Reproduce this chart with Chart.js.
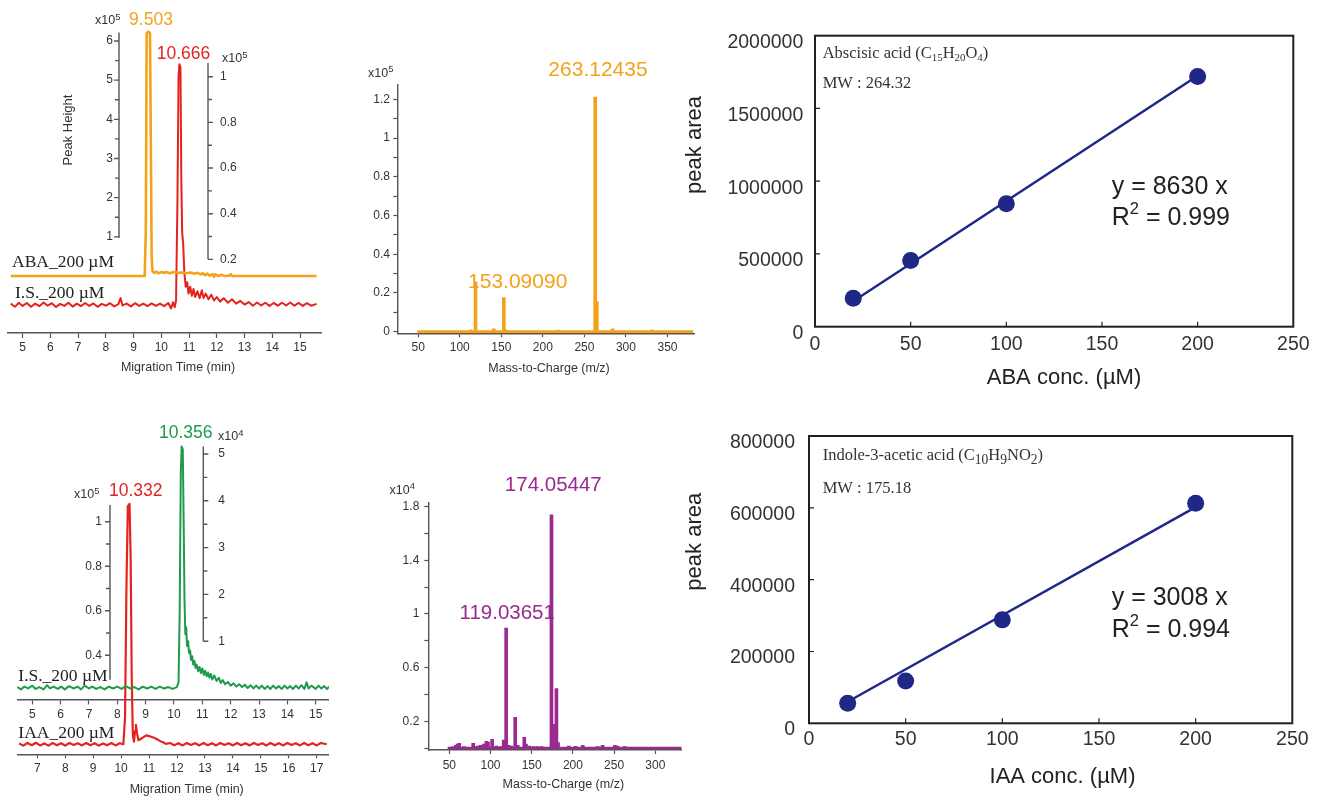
<!DOCTYPE html>
<html>
<head>
<meta charset="utf-8">
<script src="https://cdn.jsdelivr.net/npm/chart.js@4.4.1/dist/chart.umd.min.js"></script>
<style>
  html, body { margin: 0; padding: 0; background: #fff; }
  body { width: 1330px; height: 802px; position: relative; overflow: hidden; }
  canvas { position: absolute; }
</style>
</head>
<body>
<canvas id="abaEgram"></canvas>
<canvas id="abaSpec"></canvas>
<canvas id="abaCal"></canvas>
<canvas id="iaaEgram"></canvas>
<canvas id="iaaSpec"></canvas>
<canvas id="iaaCal"></canvas>
<script>
// ---- data ----
// electropherograms: [migration time (min), peak height]
const abaTrace = [[4.57,0],[9.40,0],[9.44,1.2],[9.47,6.2],[9.53,6.24],[9.59,6.2],[9.62,3.5],[9.65,0.5],[9.68,0.12],[9.75,0.08],[9.82,0.11],[9.9,0.07],[10.0,0.1],[10.1,0.08],[10.2,0.1],[10.3,0.07],[10.45,0.1],[10.6,0.08],[10.75,0.09],[10.9,0.07],[11.05,0.09],[11.2,0.06],[11.3,0.08],[11.42,0.04],[11.5,0.07],[11.58,0.02],[11.65,0.06],[11.75,0.01],[11.85,0.05],[11.9,-0.02],[11.95,0.04],[12.05,0.0],[12.15,0.03],[12.3,0.0],[12.45,0.01],[12.5,0.05],[12.55,0.0],[15.6,0]];
const isTraceAba = [[4.57,0.006],[4.72,-0.008],[4.86,0.01],[5.0,-0.004],[5.15,0.009],[5.3,-0.008],[5.45,0.006],[5.6,-0.005],[5.75,0.011],[5.9,-0.003],[6.05,0.008],[6.2,-0.009],[6.35,0.005],[6.5,-0.004],[6.65,0.01],[6.8,-0.007],[6.95,0.006],[7.1,-0.005],[7.25,0.009],[7.4,-0.004],[7.55,0.007],[7.7,-0.008],[7.85,0.005],[8.0,-0.003],[8.15,0.008],[8.3,-0.006],[8.45,0.004],[8.53,0.03],[8.6,-0.002],[8.75,0.006],[8.9,-0.006],[9.05,0.008],[9.2,-0.004],[9.35,0.006],[9.5,-0.005],[9.65,0.007],[9.8,-0.004],[9.95,0.006],[10.1,-0.005],[10.25,0.009],[10.35,-0.015],[10.42,0.012],[10.48,-0.01],[10.53,0.02],[10.58,0.45],[10.62,1.0],[10.65,1.055],[10.69,1.04],[10.72,0.55],[10.75,0.32],[10.79,0.26],[10.83,0.14],[10.88,0.08],[10.93,0.1],[10.98,0.05],[11.04,0.08],[11.1,0.04],[11.16,0.07],[11.22,0.035],[11.3,0.06],[11.38,0.03],[11.46,0.065],[11.52,0.03],[11.6,0.05],[11.7,0.025],[11.8,0.045],[11.9,0.02],[12.0,0.035],[12.12,0.015],[12.25,0.03],[12.4,0.01],[12.55,0.025],[12.7,0.006],[12.85,0.018],[13.0,0.002],[13.15,0.013],[13.3,-0.003],[13.45,0.011],[13.6,-0.002],[13.75,0.01],[13.9,-0.004],[14.05,0.009],[14.2,-0.003],[14.35,0.01],[14.5,-0.002],[14.65,0.011],[14.8,-0.003],[14.95,0.009],[15.1,-0.004],[15.25,0.008],[15.4,-0.003],[15.6,0.005]];
const isTraceIaa = [[4.47,0.02],[4.6,-0.03],[4.72,0.03],[4.85,-0.01],[5.0,0.05],[5.12,-0.02],[5.25,0.02],[5.4,-0.03],[5.52,0.06],[5.62,-0.01],[5.75,0.03],[5.9,-0.02],[6.02,0.03],[6.15,-0.03],[6.3,0.04],[6.45,-0.01],[6.6,0.03],[6.72,-0.03],[6.85,0.05],[7.0,-0.01],[7.12,0.03],[7.25,-0.02],[7.4,0.02],[7.55,-0.03],[7.7,0.03],[7.85,-0.01],[8.0,0.03],[8.15,-0.02],[8.3,0.04],[8.45,-0.01],[8.6,0.02],[8.75,-0.03],[8.9,0.03],[9.05,-0.01],[9.2,0.03],[9.35,-0.02],[9.5,0.03],[9.65,-0.01],[9.8,0.02],[9.95,-0.02],[10.1,0.02],[10.16,0.12],[10.2,1.6],[10.24,4.6],[10.27,5.16],[10.31,5.1],[10.34,3.6],[10.37,1.9],[10.4,1.15],[10.43,1.3],[10.46,0.9],[10.5,1.0],[10.53,0.75],[10.57,0.8],[10.6,0.6],[10.64,0.68],[10.68,0.5],[10.72,0.58],[10.76,0.43],[10.8,0.5],[10.85,0.36],[10.9,0.45],[10.95,0.32],[11.0,0.42],[11.05,0.28],[11.1,0.37],[11.15,0.25],[11.2,0.33],[11.25,0.22],[11.3,0.3],[11.35,0.18],[11.42,0.27],[11.5,0.15],[11.58,0.22],[11.65,0.11],[11.72,0.17],[11.8,0.08],[11.9,0.13],[12.0,0.05],[12.1,0.1],[12.2,0.03],[12.3,0.08],[12.4,0.02],[12.5,0.07],[12.6,0.0],[12.7,0.06],[12.8,-0.01],[12.9,0.05],[13.0,-0.01],[13.1,0.05],[13.2,-0.02],[13.3,0.04],[13.4,-0.02],[13.5,0.05],[13.6,-0.01],[13.7,0.04],[13.8,-0.02],[13.9,0.05],[14.0,-0.01],[14.1,0.04],[14.2,-0.02],[14.3,0.05],[14.4,-0.01],[14.5,0.06],[14.6,-0.02],[14.68,0.12],[14.75,-0.01],[14.85,0.05],[15.0,-0.02],[15.1,0.05],[15.2,-0.01],[15.3,0.04],[15.4,-0.02],[15.48,0.03]];
const iaaTrace = [[6.35,0.004],[6.5,-0.006],[6.65,0.006],[6.8,-0.004],[6.95,0.007],[7.1,-0.005],[7.25,0.004],[7.4,-0.006],[7.55,0.006],[7.7,-0.004],[7.85,0.005],[8.0,-0.006],[8.15,0.006],[8.3,-0.003],[8.45,0.005],[8.6,-0.005],[8.75,0.006],[8.9,-0.004],[9.05,0.005],[9.2,-0.006],[9.35,0.004],[9.5,-0.004],[9.65,0.006],[9.8,-0.005],[9.95,0.005],[10.08,0.0],[10.14,0.12],[10.19,0.7],[10.24,1.07],[10.3,1.08],[10.34,0.85],[10.38,0.3],[10.42,0.04],[10.46,0.012],[10.5,0.06],[10.53,0.087],[10.57,0.05],[10.62,0.018],[10.7,0.024],[10.8,0.032],[10.9,0.04],[11.0,0.037],[11.1,0.033],[11.2,0.028],[11.3,0.022],[11.4,0.014],[11.5,0.009],[11.6,0.002],[11.75,0.006],[11.9,-0.004],[12.05,0.005],[12.2,-0.005],[12.35,0.006],[12.5,-0.003],[12.65,0.005],[12.8,-0.005],[12.95,0.006],[13.1,-0.004],[13.25,0.005],[13.4,-0.005],[13.55,0.006],[13.7,-0.003],[13.85,0.005],[14.0,-0.005],[14.15,0.006],[14.3,-0.004],[14.45,0.005],[14.6,-0.005],[14.75,0.006],[14.9,-0.003],[15.05,0.005],[15.2,-0.005],[15.35,0.006],[15.5,-0.004],[15.65,0.005],[15.8,-0.005],[15.95,0.006],[16.1,-0.003],[16.25,0.005],[16.4,-0.005],[16.55,0.006],[16.7,-0.004],[16.85,0.005],[17.0,-0.005],[17.15,0.006],[17.36,0.0]];

// mass spectra: [m/z, intensity]
const abaSpectrum = [[113,0.01],[119,0.258],[141,0.015],[153,0.176],[155,0.01],[219,0.008],[263,1.211],[265,0.155],[284,0.015],[331,0.01]];
const abaSpecBase = [[49,0],[381,0]];
const iaaSpectrum = [[55,0.01],[58,0.02],[60,0.03],[62,0.035],[68,0.01],[79,0.035],[84,0.015],[88,0.02],[92,0.03],[95,0.05],[97,0.045],[102,0.065],[107,0.015],[112,0.01],[116,0.06],[119,0.895],[122,0.02],[125,0.015],[130,0.228],[133,0.02],[141,0.08],[143,0.03],[147,0.015],[152,0.01],[157,0.01],[162,0.01],[174,1.739],[176,0.176],[180,0.444],[182,0.04],[195,0.015],[203,0.012],[212,0.02],[230,0.01],[236,0.02],[251,0.02],[254,0.015],[263,0.01]];
const iaaSpecBase = [[48,0],[332,0]];

// calibration
const calConc = [20, 50, 100, 200];
const abaArea = [195000, 455000, 845000, 1720000];
const iaaArea = [56000, 118000, 288000, 613000];
const fitConc = [20, 200];
const abaFit = [175000, 1725000];
const iaaFit = [60000, 602000];

// tick labels of the floating y axes
const abaTicks = [1, 2, 3, 4, 5, 6];
const isAbaTicks = [0.2, 0.4, 0.6, 0.8, 1];
const iaaTicks = [0.4, 0.6, 0.8, 1];
const isIaaTicks = [1, 2, 3, 4, 5];

// ---- style ----
const SANS = "'Liberation Sans', Arial, Helvetica, sans-serif";
const SERIF = "'Liberation Serif', 'Times New Roman', serif";
const ORANGE = '#f3a21b', RED = '#e42320', GREEN = '#1f9a4a', PURPLE = '#992a90', NAVY = '#1f2787';
const AXIS = '#555';

Chart.defaults.font.family = SANS;
Chart.defaults.color = '#333';

const pts = arr => arr.map(([x, y]) => ({x, y}));
const zip = (xs, ys) => xs.map((x, i) => ({x, y: ys[i]}));

// values at pixel 0 and pixel len for a linear mapping through two anchors
function span(v0, p0, v1, p1, len) {
  const k = (v1 - v0) / (p1 - p0);
  return [v0 - p0 * k, v0 + (len - p0) * k];
}

// fix the box size of an axis so that the chart area lands where we want it
function pin(size, horizontal) {
  return s => {
    if (horizontal) s.height = size; else s.width = size;
    s.paddingLeft = s.paddingRight = s.paddingTop = s.paddingBottom = 0;
  };
}

function xAxis(r, h, tl, pad, step, extra) {
  return Object.assign({
    type: 'linear', axis: 'x', position: 'bottom', min: r[0], max: r[1], offset: false,
    afterFit: pin(h, true),
    grid: { drawOnChartArea: false, offset: false, tickLength: tl, tickColor: AXIS, tickWidth: 1.2 },
    border: { color: AXIS, width: 1.4 },
    ticks: { stepSize: step, includeBounds: false, autoSkip: false, maxRotation: 0, padding: pad,
             color: '#333', font: { size: 12 }, callback: v => String(v) }
  }, extra || {});
}

function hiddenY(r) {
  return { type: 'linear', axis: 'y', display: false, min: r[1], max: r[0] };
}

function trace(data, color, width, xId, yId) {
  return { data: pts(data), borderColor: color, borderWidth: width, pointRadius: 0,
           tension: 0, borderJoinStyle: 'round', xAxisID: xId, yAxisID: yId };
}

function drawFloatAxis(ctx, s, a, ox) {
  const x = a.x - ox;
  const dir = a.side === 'left' ? -1 : 1;
  ctx.strokeStyle = AXIS;
  ctx.lineWidth = 1.4;
  ctx.beginPath();
  ctx.moveTo(x, s.getPixelForValue(a.from));
  ctx.lineTo(x, s.getPixelForValue(a.to));
  a.minor.forEach(v => { const y = s.getPixelForValue(v); ctx.moveTo(x, y); ctx.lineTo(x + dir * 4, y); });
  a.major.forEach(v => { const y = s.getPixelForValue(v); ctx.moveTo(x, y); ctx.lineTo(x + dir * 5, y); });
  ctx.stroke();
  ctx.fillStyle = '#333';
  ctx.font = '12px ' + SANS;
  ctx.textBaseline = 'middle';
  ctx.textAlign = dir < 0 ? 'right' : 'left';
  a.major.forEach(v => ctx.fillText(String(v), x + dir * a.gap, s.getPixelForValue(v)));
}

function drawFrame(ctx, chart) {
  const {left, top, right, bottom} = chart.chartArea;
  const xs = chart.scales.x, ys = chart.scales.y;
  ctx.strokeStyle = '#231f20';
  ctx.lineWidth = 2;
  ctx.strokeRect(left, top, right - left, bottom - top);
  ctx.lineWidth = 1.2;
  ctx.beginPath();
  xs.ticks.forEach(t => {
    if (t.value > xs.min && t.value < xs.max) {
      const px = xs.getPixelForValue(t.value);
      ctx.moveTo(px, bottom); ctx.lineTo(px, bottom - 5);
    }
  });
  ys.ticks.forEach(t => {
    if (t.value > ys.min && t.value < ys.max) {
      const py = ys.getPixelForValue(t.value);
      ctx.moveTo(left, py); ctx.lineTo(left + 5, py);
    }
  });
  ctx.stroke();
}

// text with _{sub} and ^{sup}
function drawText(ctx, t, ox, oy) {
  const size = t.size || 12;
  const fam = t.serif ? SERIF : SANS;
  const small = size * (t.subScale || 0.66);
  const segs = [];
  const re = /_\{([^}]*)\}|\^\{([^}]*)\}|((?:[^_^]|[_^](?!\{))+)/g;
  let m;
  while ((m = re.exec(t.text)) !== null) {
    if (m[1] !== undefined) segs.push({ s: m[1], dy: size * 0.28, f: small });
    else if (m[2] !== undefined) segs.push({ s: m[2], dy: -size * (t.supRise || 0.36), f: small });
    else segs.push({ s: m[3], dy: 0, f: size });
  }
  ctx.save();
  ctx.translate(t.x - ox, t.y - oy);
  if (t.rot) ctx.rotate(t.rot * Math.PI / 180);
  ctx.fillStyle = t.color || '#333';
  ctx.textBaseline = 'middle';
  ctx.textAlign = 'left';
  let w = 0;
  segs.forEach(g => { ctx.font = g.f + 'px ' + fam; g.w = ctx.measureText(g.s).width; w += g.w; });
  let cx = t.align === 'center' ? -w / 2 : t.align === 'right' ? -w : 0;
  segs.forEach(g => { ctx.font = g.f + 'px ' + fam; ctx.fillText(g.s, cx, g.dy); cx += g.w; });
  ctx.restore();
}

function overlay(box, spec) {
  return {
    id: 'overlay',
    beforeDatasetsDraw(chart) {
      const ctx = chart.ctx;
      ctx.save();
      (spec.axes || []).forEach(a => drawFloatAxis(ctx, chart.scales[a.scale], a, box[0]));
      if (spec.frame) drawFrame(ctx, chart);
      ctx.restore();
    },
    afterDraw(chart) {
      (spec.texts || []).forEach(t => drawText(chart.ctx, t, box[0], box[1]));
    }
  };
}

function make(id, box, config) {
  const c = document.getElementById(id);
  c.width = box[2];
  c.height = box[3];
  Object.assign(c.style, { left: box[0] + 'px', top: box[1] + 'px', width: box[2] + 'px', height: box[3] + 'px' });
  config.options.responsive = false;
  config.options.animation = false;
  config.options.events = [];
  config.options.plugins = { legend: { display: false }, tooltip: { enabled: false } };
  return new Chart(c, config);
}

// exponent label "x10^n"
const expo = (n, x, y) => ({ text: 'x10^{' + n + '}', x, y, size: 12.5, subScale: 0.75, supRise: 0.3 });

// ---- ABA electropherogram ----
const boxA = [7, 0, 315, 378];
make('abaEgram', boxA, {
  type: 'line',
  data: { datasets: [
    trace(abaTrace, ORANGE, 2.6, 'x', 'yAba'),
    trace(isTraceAba, RED, 2, 'x', 'yIs')
  ] },
  options: {
    layout: { padding: 0 },
    scales: {
      x: xAxis(span(5, 15.7, 15, 293, 315), 45, 5, 2.8, 1),
      yAba: hiddenY(span(0, 276, 6, 41, 333)),
      yIs: hiddenY(span(0, 305, 1, 76.7, 333))
    }
  },
  plugins: [overlay(boxA, {
    axes: [
      { scale: 'yAba', x: 119, from: 0.97, to: 6.22, major: abaTicks, minor: [1.5, 2.5, 3.5, 4.5, 5.5], side: 'left', gap: 6 },
      { scale: 'yIs', x: 208, from: 0.2, to: 1.06, major: isAbaTicks, minor: [0.3, 0.5, 0.7, 0.9], side: 'right', gap: 12 }
    ],
    texts: [
      expo(5, 95, 21),
      expo(5, 222, 59),
      { text: 'Peak Height', x: 68, y: 130, size: 13, rot: -90, align: 'center' },
      { text: '9.503', x: 151, y: 20, size: 17.5, color: ORANGE, align: 'center' },
      { text: '10.666', x: 183.5, y: 54, size: 17.5, color: RED, align: 'center' },
      { text: 'ABA_200 µM', x: 12, y: 262, size: 17.5, serif: true, color: '#222' },
      { text: 'I.S._200 µM', x: 15, y: 293, size: 17.5, serif: true, color: '#222' },
      { text: 'Migration Time (min)', x: 178, y: 368, size: 12.5, align: 'center' }
    ]
  })]
});

// ---- ABA mass spectrum ----
const boxB = [340, 40, 360, 340];
const specY = (r, w, pad, step, cb) => ({
  type: 'linear', axis: 'y', position: 'left', min: r[1], max: r[0],
  afterFit: pin(w, false),
  grid: { drawOnChartArea: false, tickLength: 4, tickColor: AXIS, tickWidth: 1.2 },
  border: { color: AXIS, width: 1.4 },
  ticks: { stepSize: step, includeBounds: false, autoSkip: false, padding: pad, color: '#333', font: { size: 12 }, callback: cb }
});
make('abaSpec', boxB, {
  type: 'bar',
  data: { datasets: [
    { type: 'bar', data: pts(abaSpectrum), backgroundColor: ORANGE, barThickness: 3, borderWidth: 0, xAxisID: 'x', yAxisID: 'y' },
    { type: 'line', data: pts(abaSpecBase), borderColor: ORANGE, borderWidth: 3, pointRadius: 0, xAxisID: 'x', yAxisID: 'y' }
  ] },
  options: {
    layout: { padding: { top: 45, right: 6, left: 0, bottom: 0 } },
    scales: {
      x: xAxis(span(50, 20.9, 350, 270.2, 296.7), 46.7, 4, 2.8, 50),
      y: specY(span(0, 246.7, 1.2, 14.3, 248.3), 57.3, 3.3, 0.1, v => {
        const k = Math.round(v * 10);
        return k % 2 === 0 ? String(k / 10) : '';
      })
    }
  },
  plugins: [overlay(boxB, {
    texts: [
      expo(5, 368, 73.5),
      { text: '263.12435', x: 598, y: 70.7, size: 21, color: ORANGE, align: 'center' },
      { text: '153.09090', x: 517.7, y: 282.7, size: 21, color: ORANGE, align: 'center' },
      { text: 'Mass-to-Charge (m/z)', x: 549, y: 368.3, size: 12.5, align: 'center' }
    ]
  })]
});

// ---- calibration charts ----
function calChart(id, box, area, fit, yMax, yStep, pads, texts) {
  return make(id, box, {
    type: 'line',
    data: { datasets: [
      { data: zip(fitConc, fit), borderColor: NAVY, borderWidth: 2.5, pointRadius: 0, tension: 0 },
      { data: zip(calConc, area), showLine: false, pointRadius: 8.5, pointBackgroundColor: NAVY, pointBorderWidth: 0 }
    ] },
    options: {
      layout: { padding: { top: pads.top, right: pads.right, left: 0, bottom: 0 } },
      scales: {
        x: {
          type: 'linear', min: 0, max: 250, afterFit: pin(pads.xh, true),
          grid: { drawOnChartArea: false, drawTicks: false }, border: { display: false },
          ticks: { stepSize: 50, padding: pads.xpad, autoSkip: false, maxRotation: 0, color: '#333', font: { size: 19.5 }, callback: v => String(v) }
        },
        y: {
          type: 'linear', min: 0, max: yMax, afterFit: pin(pads.yw, false),
          grid: { drawOnChartArea: false, drawTicks: false }, border: { display: false },
          ticks: { stepSize: yStep, padding: pads.ypad, labelOffset: pads.lo, autoSkip: false, color: '#333', font: { size: 19.5 }, callback: v => String(v) }
        }
      }
    },
    plugins: [overlay(box, { frame: true, texts })]
  });
}

calChart('abaCal', [680, 20, 650, 380], abaArea, abaFit, 2000000, 500000,
  { top: 15.7, right: 36.7, xh: 73.3, yw: 135, xpad: 6.6, ypad: 11.7, lo: 7 }, [
    { text: 'Abscisic acid (C_{15}H_{20}O_{4})', x: 822.7, y: 53.3, size: 16.5, serif: true },
    { text: 'MW : 264.32', x: 822.7, y: 83.3, size: 16.5, serif: true },
    { text: 'y = 8630 x', x: 1111.7, y: 186.7, size: 25, color: '#222' },
    { text: 'R^{2} = 0.999', x: 1111.7, y: 218.3, size: 25, color: '#222' },
    { text: 'peak area', x: 695, y: 145, size: 22, rot: -90, align: 'center', color: '#222' },
    { text: 'ABA conc. (µM)', x: 1064, y: 378, size: 22, align: 'center', color: '#222' }
  ]);

// ---- IAA electropherogram ----
const boxD = [17, 420, 312, 382];
const dYis = span(0, 268, 5, 34, 334.3);
const midAxisAt = dYis[0] + (280 / 334.3) * (dYis[1] - dYis[0]);
make('iaaEgram', boxD, {
  type: 'line',
  data: { datasets: [
    trace(isTraceIaa, GREEN, 2, 'xIs', 'yIs'),
    trace(iaaTrace, RED, 2.2, 'x', 'yIaa')
  ] },
  options: {
    layout: { padding: 0 },
    scales: {
      x: xAxis(span(7, 20.3, 17, 299.7, 312), 47.7, 4, 2.8, 1),
      xIs: xAxis(span(5, 15.3, 15, 298.7, 312), 40, 4, 3.8, 1, { position: { yIs: midAxisAt } }),
      yIaa: hiddenY(span(0, 324.3, 1, 101.7, 334.3)),
      yIs: hiddenY(dYis)
    }
  },
  plugins: [overlay(boxD, {
    axes: [
      { scale: 'yIaa', x: 110, from: 0.29, to: 1.075, major: iaaTicks, minor: [0.5, 0.7, 0.9], side: 'left', gap: 8 },
      { scale: 'yIs', x: 203.3, from: 1, to: 5.16, major: isIaaTicks, minor: [1.5, 2.5, 3.5, 4.5], side: 'right', gap: 15 }
    ],
    texts: [
      expo(5, 74, 495),
      expo(4, 218, 437),
      { text: '10.356', x: 185.8, y: 433.3, size: 17.5, color: GREEN, align: 'center' },
      { text: '10.332', x: 135.8, y: 490.7, size: 17.5, color: RED, align: 'center' },
      { text: 'I.S._200 µM', x: 18.3, y: 676.7, size: 17.5, serif: true, color: '#222' },
      { text: 'IAA_200 µM', x: 18.3, y: 733.3, size: 17.5, serif: true, color: '#222' },
      { text: 'Migration Time (min)', x: 186.7, y: 789.3, size: 12.5, align: 'center' }
    ]
  })]
});

// ---- IAA mass spectrum ----
const boxE = [370, 460, 320, 342];
make('iaaSpec', boxE, {
  type: 'bar',
  data: { datasets: [
    { type: 'bar', data: pts(iaaSpectrum), backgroundColor: PURPLE, barThickness: 3, borderWidth: 0, xAxisID: 'x', yAxisID: 'y' },
    { type: 'line', data: pts(iaaSpecBase), borderColor: PURPLE, borderWidth: 2.5, pointRadius: 0, xAxisID: 'x', yAxisID: 'y' }
  ] },
  options: {
    layout: { padding: { top: 42.7, right: 8.3, left: 0, bottom: 0 } },
    scales: {
      x: xAxis(span(50, 21, 300, 227, 253.4), 52, 4, 4.8, 50),
      y: specY(span(0, 245.3, 1.8, 4, 247.3), 58.3, 5, 0.2, v => {
        const k = Math.round(v * 10);
        return k % 4 === 2 ? String(k / 10) : '';
      })
    }
  },
  plugins: [overlay(boxE, {
    texts: [
      expo(4, 389.5, 490.5),
      { text: '174.05447', x: 553.3, y: 485, size: 20.5, color: PURPLE, align: 'center' },
      { text: '119.03651', x: 507.2, y: 613.3, size: 20.5, color: PURPLE, align: 'center' },
      { text: 'Mass-to-Charge (m/z)', x: 563.3, y: 785, size: 12.5, align: 'center' }
    ]
  })]
});

calChart('iaaCal', [680, 420, 650, 382], iaaArea, iaaFit, 800000, 200000,
  { top: 16, right: 37.7, xh: 78.7, yw: 129, xpad: 5, ypad: 14, lo: 6.5 }, [
    { text: 'Indole-3-acetic acid (C_{10}H_{9}NO_{2})', x: 822.7, y: 456, size: 16.5, serif: true, subScale: 0.82 },
    { text: 'MW : 175.18', x: 822.7, y: 488.3, size: 16.5, serif: true },
    { text: 'y = 3008 x', x: 1111.7, y: 598.3, size: 25, color: '#222' },
    { text: 'R^{2} = 0.994', x: 1111.7, y: 630, size: 25, color: '#222' },
    { text: 'peak area', x: 695, y: 541.7, size: 22, rot: -90, align: 'center', color: '#222' },
    { text: 'IAA conc. (µM)', x: 1062.5, y: 776.7, size: 22, align: 'center', color: '#222' }
  ]);
</script>
</body>
</html>
